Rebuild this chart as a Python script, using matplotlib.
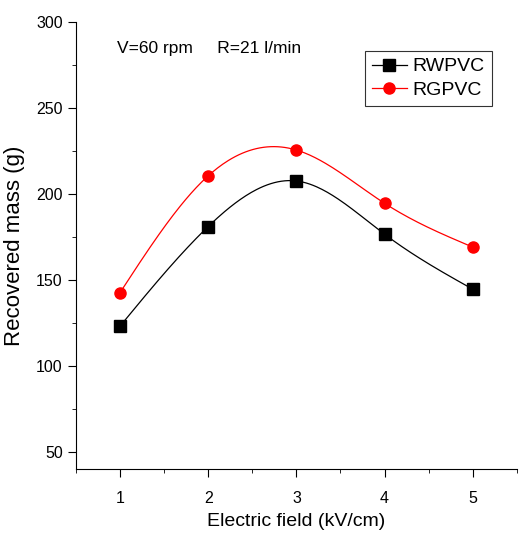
import numpy as np
import matplotlib
matplotlib.use("Agg")
from matplotlib import pyplot as plt
from matplotlib.ticker import MultipleLocator

field = [1, 2, 3, 4, 5]
rwpvc = [123, 181, 207.5, 176.5, 144.5]
rgpvc = [142.5, 210.5, 225.5, 194.5, 169]
labels = ["RWPVC", "RGPVC"]


def spline(x, y, n=200):
    # natural cubic spline, just for the smooth connecting line
    x = np.asarray(x, float)
    y = np.asarray(y, float)
    m = len(x)
    h = np.diff(x)
    A = np.zeros((m, m))
    b = np.zeros(m)
    A[0, 0] = A[-1, -1] = 1
    for i in range(1, m - 1):
        A[i, i - 1] = h[i - 1]
        A[i, i] = 2 * (h[i - 1] + h[i])
        A[i, i + 1] = h[i]
        b[i] = 3 * ((y[i + 1] - y[i]) / h[i] - (y[i] - y[i - 1]) / h[i - 1])
    c = np.linalg.solve(A, b)
    xs = np.linspace(x[0], x[-1], n)
    ys = np.empty_like(xs)
    for k, xv in enumerate(xs):
        i = min(np.searchsorted(x, xv, side="right") - 1, m - 2)
        dx = xv - x[i]
        bi = (y[i + 1] - y[i]) / h[i] - h[i] * (2 * c[i] + c[i + 1]) / 3
        di = (c[i + 1] - c[i]) / (3 * h[i])
        ys[k] = y[i] + bi * dx + c[i] * dx ** 2 + di * dx ** 3
    return xs, ys


plt.rcParams['font.family'] = ['Liberation Sans', 'DejaVu Sans']

fig = plt.figure(figsize=(5.2, 5.37), dpi=100)
ax = fig.add_axes([0.146, 0.127, 0.848, 0.832])

for ys, col, mk, ms, lab in [(rwpvc, "black", "s", 8, labels[0]),
                             (rgpvc, "red", "o", 8, labels[1])]:
    sx, sy = spline(field, ys)
    ax.plot(sx, sy, color=col, lw=0.9)
    ax.plot(field, ys, linestyle="none", marker=mk, color=col, markersize=ms)
    ax.plot([], [], color=col, lw=0.9, marker=mk, markersize=ms, label=lab)

ax.set_xlim(0.5, 5.5)
ax.set_ylim(40, 300)
ax.xaxis.set_major_locator(MultipleLocator(1))
ax.xaxis.set_minor_locator(MultipleLocator(0.5))
ax.yaxis.set_minor_locator(MultipleLocator(25))
ax.set_yticks([50, 100, 150, 200, 250, 300])
ax.spines['top'].set_visible(False)
ax.spines['right'].set_visible(False)
ax.tick_params(which="major", direction="out", length=6, labelsize=11.5)
ax.tick_params(which="minor", direction="out", length=3)
ax.tick_params(axis="x", pad=10)

ax.set_xlabel("Electric field (kV/cm)", fontsize=14, labelpad=5)
ax.set_ylabel("Recovered mass (g)", fontsize=16, labelpad=8)

ax.text(0.093, 0.93, "V=60 rpm     R=21 l/min", transform=ax.transAxes, fontsize=12.5)

leg = ax.legend(loc="upper right", bbox_to_anchor=(0.943, 0.935), fancybox=False,
                edgecolor="black", fontsize=14, handlelength=1.8,
                borderpad=0.35, labelspacing=0.3, handletextpad=0.3,
                borderaxespad=0)
leg.get_frame().set_linewidth(0.8)

fig.savefig("out.png", dpi=100)
